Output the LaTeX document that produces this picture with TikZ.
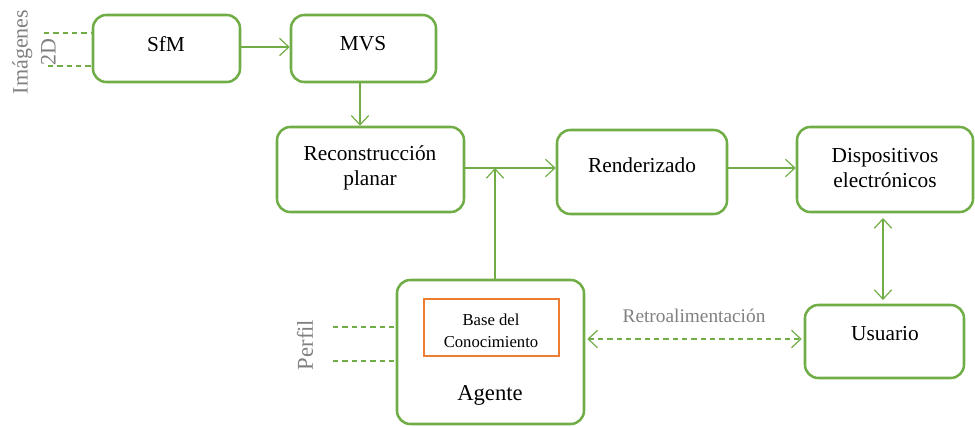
\documentclass[tikz,border=0pt]{standalone}
\usepackage{fontspec}
\setmainfont{Liberation Serif}
\usetikzlibrary{arrows.meta}
\definecolor{gr}{RGB}{112,173,71}
\definecolor{orng}{RGB}{237,125,49}
\definecolor{gtxt}{RGB}{128,128,128}
\tikzset{
  box/.style={draw=gr, line width=1.9pt, rounded corners=10pt, inner sep=0pt},
  kbox/.style={draw=orng, line width=1.6pt, inner sep=0pt},
  lbl/.style={font=\fontsize{16}{19}\selectfont, align=center, inner sep=0pt},
  conn/.style={draw=gr, line width=0.9pt, -{Straight Barb[length=7pt,width=13pt]}},
  dconn/.style={draw=gr, line width=0.9pt, {Straight Barb[length=7pt,width=13pt]}-{Straight Barb[length=7pt,width=13pt]}},
  dashline/.style={draw=gr, line width=0.9pt, dash pattern=on 4pt off 3pt},
}
\begin{document}
\begin{tikzpicture}[x=0.75pt,y=-0.75pt]
\useasboundingbox (0,0) rectangle (975,426);
% boxes
\node[box, minimum width=110.25pt, minimum height=50.25pt] (sfm) at (166.5,48.5) {};
\node[box, minimum width=108.75pt, minimum height=50.25pt] (mvs) at (363.5,48.5) {};
\node[box, minimum width=140.25pt, minimum height=63.75pt] (rec) at (370.5,169.5) {};
\node[box, minimum width=127.5pt, minimum height=63pt] (ren) at (642,172) {};
\node[box, minimum width=132pt, minimum height=63.75pt] (dis) at (885,169.5) {};
\node[box, minimum width=119.25pt, minimum height=54.75pt] (usr) at (884.5,341.5) {};
\node[box, minimum width=140.25pt, minimum height=108pt] (age) at (490.5,352) {};
\node[kbox, minimum width=101.25pt, minimum height=42.75pt] (kb) at (491.5,327.5) {};
% texts
\node[lbl] (tsfm) at (166,44) {SfM};
\node[lbl] (tmvs) at (363,44) {MVS};
\node[lbl] (trec) at (370,168) {Reconstrucción\\planar};
\node[lbl] (tren) at (642,165) {Renderizado};
\node[lbl] (tdis) at (885,168) {Dispositivos\\electrónicos};
\node[lbl] (tusr) at (885,334) {Usuario};
\node[lbl, font=\fontsize{12.5}{16.5}\selectfont] (tkb) at (491,331) {Base del\\Conocimiento};
\node[lbl, font=\fontsize{17}{20}\selectfont] (tage) at (490,395) {Agente};
\node[lbl, font=\fontsize{14.5}{17}\selectfont, text=gtxt] (tret) at (694,316) {Retroalimentación};
\node[lbl, font=\fontsize{16.5}{21}\selectfont, text=gtxt, rotate=90] (timg) at (34,52) {Imágenes\\2D};
\node[lbl, font=\fontsize{17}{20}\selectfont, text=gtxt, rotate=90] (tper) at (305,345) {Perfil};
% connectors
\coordinate (j) at (495,168);
\draw[conn] (sfm.east |- 0,47) -- (mvs.west |- 0,47);
\draw[conn] (mvs.south -| 360,0) -- (rec.north -| 360,0);
\draw[conn] (rec.east |- j) -- (ren.west |- j);
\draw[conn] (age.north -| j) -- (j);
\draw[conn] (ren.east |- j) -- (dis.west |- j);
\coordinate (d1) at (883,218);
\coordinate (d2) at (883,300);
\draw[dconn] (d1) -- (d2);
\draw[dconn, dash pattern=on 4pt off 3pt] ([xshift=1.5pt]age.east |- 0,339) -- ([xshift=-1.5pt]usr.west |- 0,339);
% dashed inputs
\coordinate (i1) at (44,33);
\coordinate (i2) at (48,66);
\draw[dashline] (i1) -- (sfm.west |- i1);
\draw[dashline] (i2) -- (sfm.west |- i2);
\coordinate (p1) at (333,327);
\coordinate (p2) at (333,361);
\draw[dashline] (p1) -- (age.west |- p1);
\draw[dashline] (p2) -- (age.west |- p2);
\end{tikzpicture}
\end{document}
